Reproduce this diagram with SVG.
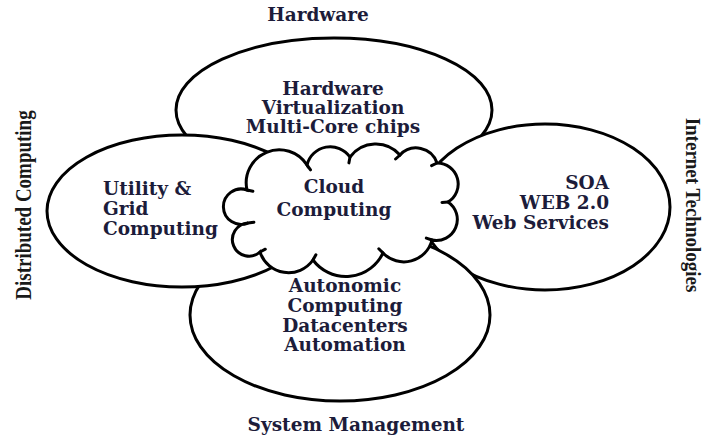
<svg xmlns="http://www.w3.org/2000/svg" width="705" height="438" viewBox="0 0 705 438">
  <style>
    .area { fill: #ffffff; stroke: #000000; stroke-width: 3; }
    .tick { fill: none; stroke: #000000; stroke-width: 3; stroke-linecap: round; }
    .lbl { font-family: "DejaVu Serif", "Liberation Serif", serif; font-weight: bold; font-size: 18.5px; fill: #1c1c3a; }
    .side { font-family: "Liberation Serif", "DejaVu Serif", serif; font-weight: bold; font-size: 19px; fill: #1a1a1a; }
    .mid { text-anchor: middle; }
    .end { text-anchor: end; }
  </style>

  <!-- captions around the diagram -->
  <g id="caption-hardware">
    <text class="lbl mid" x="318" y="21">Hardware</text>
  </g>
  <g id="caption-system-management">
    <text class="lbl mid" x="356" y="431">System Management</text>
  </g>
  <g id="caption-distributed">
    <text class="side mid" transform="translate(31,205) rotate(-90) scale(1,1.2)">Distributed Computing</text>
  </g>
  <g id="caption-internet">
    <text class="side mid" transform="translate(686,205) rotate(90) scale(1,1.15)">Internet Technologies</text>
  </g>

  <!-- overlapping domain ellipses, back to front -->
  <g id="hardware-ellipse">
    <ellipse class="area" cx="334" cy="110" rx="158" ry="72"/>
    <text class="lbl mid" x="333" y="95">Hardware</text>
    <text class="lbl mid" x="333" y="114">Virtualization</text>
    <text class="lbl mid" x="333" y="133">Multi-Core chips</text>
  </g>

  <g id="internet-ellipse">
    <ellipse class="area" cx="545" cy="207" rx="125" ry="83"/>
    <text class="lbl end" x="609" y="189">SOA</text>
    <text class="lbl end" x="609" y="209">WEB 2.0</text>
    <text class="lbl end" x="609" y="229">Web Services</text>
  </g>

  <g id="management-ellipse">
    <ellipse class="area" cx="340" cy="315" rx="150" ry="86"/>
    <text class="lbl mid" x="345" y="292">Autonomic</text>
    <text class="lbl mid" x="345" y="312">Computing</text>
    <text class="lbl mid" x="345" y="332">Datacenters</text>
    <text class="lbl mid" x="345" y="351">Automation</text>
  </g>

  <g id="distributed-ellipse">
    <ellipse class="area" cx="182" cy="211" rx="135" ry="76"/>
    <text class="lbl" x="103" y="195">Utility &amp;</text>
    <text class="lbl" x="103" y="215">Grid</text>
    <text class="lbl" x="103" y="235">Computing</text>
  </g>

  <!-- central cloud -->
  <g id="cloud">
    <path class="area" d="M 247 190
      A 33 33 0 0 1 307 165
      A 24 24 0 0 1 350 157
      A 32 32 0 0 1 400 155
      A 22 22 0 0 1 437 163
      A 21 21 0 0 1 448 202
      A 21 21 0 0 1 432 240
      A 29 29 0 0 1 383 253
      A 41 41 0 0 1 313 260
      A 30 30 0 0 1 260 252
      A 16.6 16.6 0 1 1 248 223
      A 17.7 17.7 0 1 1 247 190 Z"/>
    <path class="tick" d="M307 165 L310.5 169.8 M350 157 L348.9 162.9 M400 155 L395.6 159 M437 163 L431.6 165.6 M448 202 L442 202.4 M432 240 L426.3 238.1 M383 253 L378.8 248.8 M313 260 L315.9 254.7 M260 252 L265.3 249.2 M248 223 L253.9 222.2 M247 190 L252.9 191.3"/>
    <text class="lbl mid" x="334" y="193">Cloud</text>
    <text class="lbl mid" x="334" y="216">Computing</text>
  </g>
</svg>
